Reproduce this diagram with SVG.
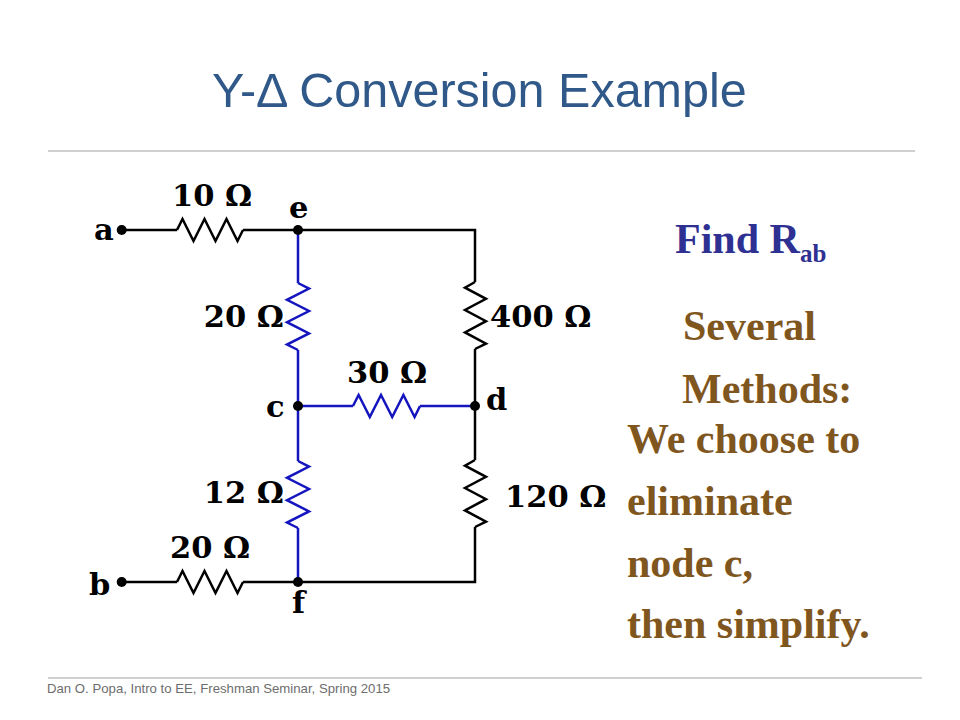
<svg xmlns="http://www.w3.org/2000/svg" width="960" height="720" viewBox="0 0 960 720">
<style>
.w{fill:none;stroke:#000;stroke-width:2.5;stroke-linejoin:miter;stroke-linecap:butt}
.bl{stroke:#1515C0}
.dot{fill:#000}
.lbl{font-family:"DejaVu Serif",serif;font-weight:bold;font-size:30.5px;fill:#000}
.txt{font-family:"Liberation Serif","Times New Roman",serif;font-weight:bold;font-size:42px;fill:#7F561E}
</style>
<rect width="960" height="720" fill="#fff"/>
<g id="title">
<text x="212" y="107" font-family="Liberation Sans, Arial, sans-serif" font-size="48.5" fill="#30598A">Y-Δ Conversion Example</text>
<line x1="48" y1="151" x2="915" y2="151" stroke="#A0A0A0" stroke-width="1"/>
</g>
<g id="connectors">
<polyline class="w" points="121.7,230 177,230"/>
<polyline class="w" points="243,230 475,230 475,282"/>
<polyline class="w" points="475,349 475,460"/>
<polyline class="w" points="475,527 475,582 298,582 243,582"/>
<polyline class="w" points="177,582 121.7,582"/>
<polyline class="w bl" points="298,230 298,283"/>
<polyline class="w bl" points="298,350 298,461"/>
<polyline class="w bl" points="298,528 298,582"/>
<polyline class="w bl" points="298,406 353,406"/>
<polyline class="w bl" points="420,406 475,406"/>
</g>
<g id="R10">
<polyline class="w" points="177,230 182.5,219 193.5,241 204.5,219 215.5,241 226.5,219 237.5,241 243,230"/>
<text class="lbl" x="172" y="206">10 Ω</text>
</g>
<g id="R20top">
<polyline class="w bl" points="298,283 309,288.6 287,299.8 309,311 287,322.2 309,333.4 287,344.6 298,350"/>
<text class="lbl" x="284" y="327" text-anchor="end">20 Ω</text>
</g>
<g id="R12">
<polyline class="w bl" points="298,461 309,466.6 287,477.8 309,489 287,500.2 309,511.4 287,522.6 298,528"/>
<text class="lbl" x="284" y="503" text-anchor="end">12 Ω</text>
</g>
<g id="R20bot">
<polyline class="w" points="177,582 182.5,571 193.5,593 204.5,571 215.5,593 226.5,571 237.5,593 243,582"/>
<text class="lbl" x="170" y="558">20 Ω</text>
</g>
<g id="R30">
<polyline class="w bl" points="353,406 358.6,395 369.8,417 381,395 392.2,417 403.4,395 414.6,417 420,406"/>
<text class="lbl" x="347" y="383">30 Ω</text>
</g>
<g id="R400">
<polyline class="w" points="475,282 465,287.6 486,298.8 465,310 486,321.2 465,332.4 486,343.6 475,349"/>
<text class="lbl" x="490" y="327">400 Ω</text>
</g>
<g id="R120">
<polyline class="w" points="475,460 465,465.6 486,476.8 465,488 486,499.2 465,510.4 486,521.6 475,527"/>
<text class="lbl" x="505" y="507">120 Ω</text>
</g>
<g id="node-a"><circle class="dot" cx="121.7" cy="230" r="5"/><text class="lbl" x="94" y="240">a</text></g>
<g id="node-e"><circle class="dot" cx="298" cy="230" r="5"/><text class="lbl" x="289" y="218">e</text></g>
<g id="node-c"><circle class="dot" cx="298" cy="406" r="5"/><text class="lbl" x="266" y="417">c</text></g>
<g id="node-d"><circle class="dot" cx="475" cy="406" r="5"/><text class="lbl" x="486" y="410">d</text></g>
<g id="node-b"><circle class="dot" cx="121.7" cy="582" r="5"/><text class="lbl" x="89" y="595">b</text></g>
<g id="node-f"><circle class="dot" cx="298" cy="582" r="5"/><text class="lbl" x="292" y="613">f</text></g>
<g id="notes">
<text x="675" y="253" font-family="Liberation Serif, Times New Roman, serif" font-weight="bold" font-size="42" fill="#2E3192">Find R<tspan font-size="25" dy="9">ab</tspan></text>
<text class="txt" x="683" y="340">Several</text>
<text class="txt" x="682" y="403">Methods:</text>
<text class="txt" x="627" y="453">We choose to</text>
<text class="txt" x="627" y="515">eliminate</text>
<text class="txt" x="627" y="577">node c,</text>
<text class="txt" x="627" y="638">then simplify.</text>
</g>
<g id="footer">
<line x1="48" y1="678" x2="922" y2="678" stroke="#A0A0A0" stroke-width="1"/>
<text x="47" y="693" font-family="Liberation Sans, Arial, sans-serif" font-size="13.2" fill="#6D6D6D">Dan O. Popa, Intro to EE, Freshman Seminar, Spring 2015</text>
</g>
</svg>
